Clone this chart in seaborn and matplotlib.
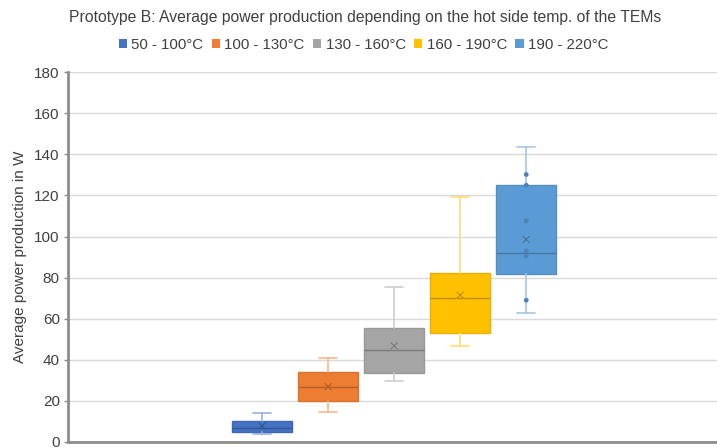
import matplotlib
matplotlib.use("Agg")
import matplotlib.pyplot as plt
import matplotlib.colors as mcolors
from matplotlib.patches import Patch
import seaborn as sns
import pandas as pd

# Temperature bands of the hot side
categories = ["50 - 100°C", "100 - 130°C", "130 - 160°C", "160 - 190°C", "190 - 220°C"]
# Box-plot summaries (W)
whisker_low = [3.7, 14.6, 29.8, 46.7, 62.6]
q1 = [5.0, 20.1, 33.4, 52.9, 81.6]
median = [7.0, 26.6, 44.7, 70.2, 91.8]
q3 = [10.2, 34.2, 55.6, 82.3, 125.0]
whisker_high = [14.0, 41.0, 75.5, 119.3, 143.6]
mean = [7.8, 26.9, 46.8, 71.5, 98.6]
# Individual readings shown for the hottest band
inner_band = "190 - 220°C"
inner_points = [130.2, 125.0, 107.6, 93.0, 90.5, 69.0]

colors = ["#4472C4", "#ED7D31", "#A5A5A5", "#FFC000", "#5B9BD5"]

sns.set_theme(style="white")
plt.rcParams["font.family"] = ["Liberation Sans", "DejaVu Sans"]

fig = plt.figure(figsize=(7.17, 4.48), dpi=100)
ax = fig.add_axes([0.095, 0.0134, 0.905, 0.8255])

positions = list(range(len(categories)))
stats = []
for i, name in enumerate(categories):
    stats.append(dict(label=name, whislo=whisker_low[i], q1=q1[i], med=median[i],
                      q3=q3[i], whishi=whisker_high[i], mean=mean[i], fliers=[]))

def darker(c, f=0.8):
    r, g, b = mcolors.to_rgb(c)
    return (r * f, g * f, b * f)

def lighter(c, f=0.45):
    r, g, b = mcolors.to_rgb(c)
    return (r + (1 - r) * f, g + (1 - g) * f, b + (1 - b) * f)

for i, st in enumerate(stats):
    col = colors[i]
    ax.bxp([st], positions=[positions[i]], widths=0.91, patch_artist=True,
           showmeans=False, showfliers=False,
           boxprops=dict(facecolor=col, edgecolor=darker(col, 0.92), linewidth=1.0),
           medianprops=dict(color=darker(col, 0.75), linewidth=1.0),
           whiskerprops=dict(color=lighter(col), linewidth=1.2),
           capprops=dict(color=lighter(col), linewidth=1.2),
           capwidths=0.27, zorder=3)

mean_colors = [darker(c, 0.72) for c in colors]
means_df = pd.DataFrame({"pos": positions, "mean": mean})
sns.scatterplot(data=means_df, x="pos", y="mean", marker="x", s=24,
                color=mean_colors[0], ax=ax, zorder=4, legend=False, linewidth=0.7)
ax.collections[-1].set_edgecolor(mean_colors)
ax.collections[-1].set_facecolor(mean_colors)

pts_df = pd.DataFrame({"pos": [categories.index(inner_band)] * len(inner_points),
                       "value": inner_points})
sns.scatterplot(data=pts_df, x="pos", y="value", s=12,
                color=darker(colors[4], 0.85), edgecolor="none", ax=ax, zorder=4,
                legend=False)

ax.set_xlim(-2.94, 6.89)
ax.set_ylim(0, 180)
ax.set_yticks(range(0, 181, 20))
ax.set_xticks([])
ax.set_xlabel("")
ax.set_ylabel("Average power production in W", fontsize=11, color="#404040", labelpad=5)
ax.tick_params(axis="y", labelsize=11, labelcolor="#404040", length=3, width=1,
               color="#8c8c8c", left=True, pad=3)
ax.grid(axis="y", color="#d9d9d9", linewidth=1.0, zorder=0)
ax.set_axisbelow(True)
for side in ["top", "right"]:
    ax.spines[side].set_visible(False)
for side in ["left", "bottom"]:
    ax.spines[side].set_color("#8c8c8c")
    ax.spines[side].set_linewidth(2.0)

fig.text(0.509, 0.96, "Prototype B: Average power production depending on the hot side temp. of the TEMs",
         ha="center", va="center", fontsize=11.3, color="#404040")

handles = [Patch(facecolor=c, edgecolor="none") for c in colors]
fig.legend(handles, categories, loc="center", bbox_to_anchor=(0.507, 0.9), ncol=5,
           frameon=False, fontsize=10.8, handlelength=0.55, handleheight=0.55,
           handletextpad=0.3, columnspacing=0.55, labelcolor="#404040")

fig.savefig("out.png", dpi=100)
